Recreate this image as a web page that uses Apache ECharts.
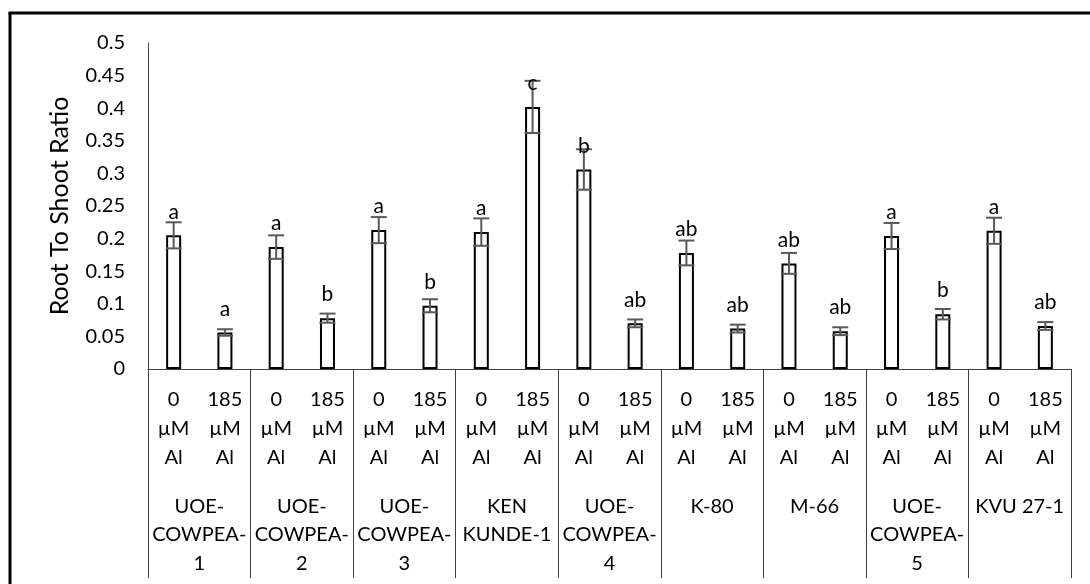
<!DOCTYPE html>
<html>
<head>
<meta charset="utf-8">
<script src="https://cdn.jsdelivr.net/npm/echarts@6/dist/echarts.min.js"></script>
<style>
html,body{margin:0;padding:0;background:#fff;}
#c{width:1090px;height:584px;}
</style>
</head>
<body>
<div id="c"></div>
<script>
const treatments = ['0\nµM\nAl','185\nµM\nAl','0\nµM\nAl','185\nµM\nAl','0\nµM\nAl','185\nµM\nAl','0\nµM\nAl','185\nµM\nAl','0\nµM\nAl','185\nµM\nAl','0\nµM\nAl','185\nµM\nAl','0\nµM\nAl','185\nµM\nAl','0\nµM\nAl','185\nµM\nAl','0\nµM\nAl','185\nµM\nAl'];
const genotypes = ['UOE-\nCOWPEA-\n1','UOE-\nCOWPEA-\n2','UOE-\nCOWPEA-\n3','KEN\nKUNDE-1','UOE-\nCOWPEA-\n4','K-80','M-66','UOE-\nCOWPEA-\n5','KVU 27-1'];
const ratio = [0.205,0.056,0.187,0.078,0.213,0.097,0.210,0.402,0.306,0.070,0.178,0.062,0.162,0.058,0.204,0.084,0.212,0.066];
const errors = [0.020,0.005,0.018,0.007,0.020,0.010,0.021,0.040,0.031,0.006,0.019,0.006,0.016,0.006,0.020,0.008,0.020,0.006];
const letters = ['a','a','a','b','a','b','a','c','b','ab','ab','ab','ab','ab','a','b','a','ab'];
const yTicks = {min:0, max:0.5, interval:0.05};

const FONT = 'Lato';
const chart = echarts.init(document.getElementById('c'), null, {renderer:'canvas'});
chart.setOption({
  animation:false,
  backgroundColor:'#fff',
  grid:{left:148, right:19, top:43, bottom:215, containLabel:false},
  xAxis:[
    {type:'category', data:treatments, position:'bottom',
     axisLine:{show:true, lineStyle:{color:'#404040', width:1}},
     axisTick:{show:false},
     axisLabel:{interval:0, margin:16, fontFamily:FONT, fontSize:20, lineHeight:29, color:'#000'}},
    {type:'category', data:genotypes, position:'bottom', offset:0,
     axisLine:{show:false},
     axisTick:{show:true, interval:0, length:209, lineStyle:{color:'#404040', width:1}},
     axisLabel:{interval:0, margin:123, fontFamily:FONT, fontSize:20, lineHeight:28.5, color:'#000'}}
  ],
  yAxis:{type:'value', min:yTicks.min, max:yTicks.max, interval:yTicks.interval,
    name:'Root To Shoot Ratio', nameLocation:'middle', nameGap:76,
    nameTextStyle:{fontFamily:FONT, fontSize:25, color:'#000'},
    axisLine:{show:true, lineStyle:{color:'#404040', width:1}},
    axisTick:{show:false}, splitLine:{show:false},
    axisLabel:{margin:23, fontFamily:FONT, fontSize:20, color:'#000'}},
  series:[
    {type:'bar', xAxisIndex:0, data:ratio, barWidth:15, z:2,
     itemStyle:{color:'#fff', borderColor:'#000', borderWidth:2}},
    {type:'custom', xAxisIndex:0, z:3,
     data:ratio.map((v,i)=>[i, v, errors[i]]),
     renderItem:function(params, api){
       const x = api.value(0), v = api.value(1), e = api.value(2);
       const top = api.coord([x, v+e]);
       const bot = api.coord([x, v-e]);
       const hw = 8;
       const st = {stroke:'#595959', lineWidth:2};
       return {type:'group', children:[
         {type:'line', shape:{x1:top[0], y1:top[1], x2:bot[0], y2:bot[1]}, style:st},
         {type:'line', shape:{x1:top[0]-hw, y1:top[1], x2:top[0]+hw, y2:top[1]}, style:st},
         {type:'line', shape:{x1:bot[0]-hw, y1:bot[1], x2:bot[0]+hw, y2:bot[1]}, style:st}
       ]};
     }},
    {type:'custom', xAxisIndex:0, z:5,
     data:ratio.map((v,i)=>[i, v]),
     renderItem:function(params, api){
       const i = params.dataIndex;
       const p = api.coord([api.value(0), api.value(1)]);
       return {type:'text', z2:10, style:{text:letters[i], x:p[0], y:p[1]-13,
         align:'center', verticalAlign:'bottom', fill:'#000',
         fontSize:21, fontFamily:FONT}};
     }}
  ],
  graphic:[
    {type:'line', shape:{x1:10, y1:13, x2:10, y2:584}, style:{stroke:'#000', lineWidth:3}},
    {type:'line', shape:{x1:8.5, y1:13, x2:1090, y2:13}, style:{stroke:'#000', lineWidth:3}}
  ]
});
</script>
</body>
</html>
